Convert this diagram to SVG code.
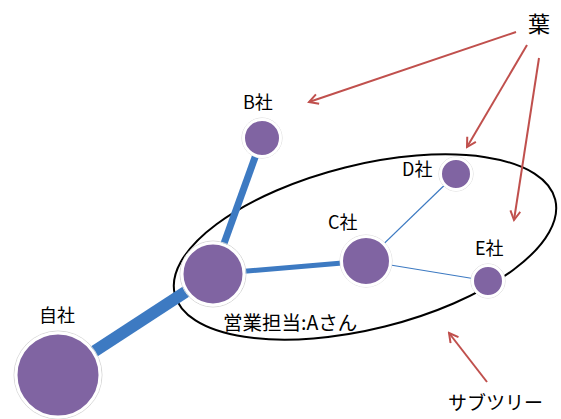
<svg xmlns="http://www.w3.org/2000/svg" width="561" height="419" viewBox="0 0 561 419">
<style>
.n{fill:#8064a2;stroke:#fff;stroke-width:3}
.halo{fill:none;stroke:#d8d8d8;stroke-width:1}
.e{stroke:#3d7ac2;stroke-linecap:butt}
.r{stroke:#c0504d;stroke-width:2;fill:none}
text{font-family:"Noto Sans CJK JP","Noto Sans",sans-serif;font-size:18px;fill:#000}
</style>
<defs>
<marker id="ah" markerWidth="12" markerHeight="12" refX="10" refY="6" orient="auto" markerUnits="userSpaceOnUse">
<polyline points="1,1 10,6 1,11" fill="none" stroke="#c0504d" stroke-width="2"/>
</marker>
</defs>
<rect width="561" height="419" fill="#fff"/>
<ellipse cx="365" cy="247" rx="196" ry="82" transform="rotate(-14 365 247)" fill="none" stroke="#000" stroke-width="2"/>
<g id="connectors">
<line class="e" x1="58" y1="375" x2="213" y2="274" stroke-width="12"/>
<line class="e" x1="213" y1="274" x2="262" y2="138" stroke-width="7"/>
<line class="e" x1="213" y1="274" x2="366" y2="261" stroke-width="5"/>
<line class="e" x1="366" y1="261" x2="456" y2="174" stroke-width="1.2"/>
<line class="e" x1="366" y1="261" x2="488" y2="281" stroke-width="1.2"/>
<line class="r" x1="516" y1="32" x2="309" y2="102" marker-end="url(#ah)"/>
<line class="r" x1="527" y1="45" x2="467" y2="147" marker-end="url(#ah)"/>
<line class="r" x1="539" y1="58" x2="514" y2="220" marker-end="url(#ah)"/>
<line class="r" x1="487" y1="382" x2="449" y2="333" marker-end="url(#ah)"/>
</g>
<g id="jisha"><circle class="halo" cx="58" cy="375" r="44"/><circle class="n" cx="58" cy="375" r="42"/><text x="39" y="322">自社</text></g>
<g id="a"><circle class="halo" cx="213" cy="274" r="33"/><circle class="n" cx="213" cy="274" r="31"/><text x="223" y="330" style="font-size:19.5px">営業担当:Aさん</text></g>
<g id="b"><circle class="halo" cx="262" cy="138" r="20"/><circle class="n" cx="262" cy="138" r="18.5"/><text x="243" y="109">B社</text></g>
<g id="c"><circle class="halo" cx="366" cy="261" r="26"/><circle class="n" cx="366" cy="261" r="24.5"/><text x="328" y="229">C社</text></g>
<g id="d"><circle class="halo" cx="456" cy="174" r="17"/><circle class="n" cx="456" cy="174" r="15.5"/><text x="402" y="176">D社</text></g>
<g id="e"><circle class="halo" cx="488" cy="281" r="17"/><circle class="n" cx="488" cy="281" r="15.5"/><text x="475" y="255">E社</text></g>
<g id="ha"><text x="528" y="32" style="font-size:22px">葉</text></g>
<g id="subtree"><text x="448" y="410" style="font-size:19px">サブツリー</text></g>
</svg>
